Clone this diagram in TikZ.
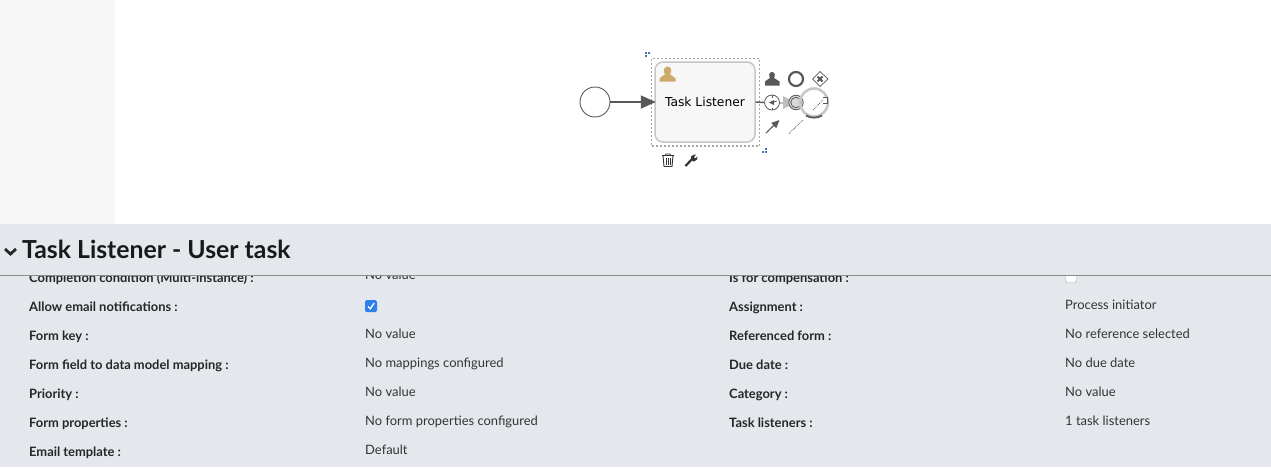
\documentclass[tikz,border=0pt]{standalone}
\usepackage{fontspec}
\setmainfont{Lato}
\newfontfamily\verafont{DejaVu Sans}
\usetikzlibrary{arrows.meta,positioning}
\definecolor{panelgray}{HTML}{E4E8ED}
\definecolor{sidegray}{HTML}{F7F7F7}
\definecolor{inkgray}{HTML}{585858}
\definecolor{usergold}{HTML}{CDAA6A}
\definecolor{handleblue}{HTML}{4A74B8}
\definecolor{checkblue}{HTML}{2F80ED}
\tikzset{
  fieldname/.style={anchor=base west, inner sep=0pt, font=\bfseries\fontsize{12.9}{14}\selectfont, text=black!85},
  fieldvalue/.style={anchor=base west, inner sep=0pt, font=\fontsize{12.95}{14}\selectfont, text=black!80},
  handledot/.style={fill=handleblue, minimum size=2pt, inner sep=0pt},
  tool/.style={draw=black!80, line width=0.9pt},
}
\begin{document}
\begin{tikzpicture}[x=1pt, y=-1pt]
  \useasboundingbox (0,0) rectangle (1271,467);
  \fill[white] (0,0) rectangle (1271,467);
  \fill[sidegray] (0,0) rectangle (115,224);
  \fill[panelgray] (0,224) rectangle (1271,467);

  % left column
  \node[fieldname] (condname) at (29,282) {Completion condition (Multi-instance) :};
  \node[fieldname] (mailname) at (29,311) {Allow email notifications :};
  \node[fieldname] (keyname) at (29,340) {Form key :};
  \node[fieldname] (mapname) at (29,369) {Form field to data model mapping :};
  \node[fieldname] (prioname) at (29,398) {Priority :};
  \node[fieldname] (propname) at (29,427) {Form properties :};
  \node[fieldname] (tplname) at (29,456) {Email template :};
  \node[fieldvalue] (condval) at (365,279.5) {No value};
  \node[fieldvalue] (keyval) at (365,338) {No value};
  \node[fieldvalue] (mapval) at (365,367) {No mappings configured};
  \node[fieldvalue] (prioval) at (365,396) {No value};
  \node[fieldvalue] (propval) at (365,425) {No form properties configured};
  \node[fieldvalue] (tplval) at (365,454) {Default};
  \fill[checkblue, rounded corners=1.5pt] (365,300) rectangle (377,312);
  \draw[white, line width=1.3pt] (368,306.5) -- (370.3,308.8) -- (374.2,303);

  % right column
  \node[fieldname] (compname) at (729,282) {Is for compensation :};
  \node[fieldname] (asgname) at (729,311) {Assignment :};
  \node[fieldname] (refname) at (729,340) {Referenced form :};
  \node[fieldname] (duename) at (729,369) {Due date :};
  \node[fieldname] (catname) at (729,398) {Category :};
  \node[fieldname] (lisname) at (729,427) {Task listeners :};
  \node[fieldvalue] (asgval) at (1065,309) {Process initiator};
  \node[fieldvalue] (refval) at (1065,338) {No reference selected};
  \node[fieldvalue] (dueval) at (1065,367) {No due date};
  \node[fieldvalue] (catval) at (1065,396) {No value};
  \node[fieldvalue] (lisval) at (1065,425) {1 task listeners};
  \draw[black!35, fill=white, rounded corners=1.5pt] (1065.5,271) rectangle (1076.5,282.5);

  % header bar on top of the scrolled rows
  \fill[panelgray] (0,224) rectangle (1271,275);
  \draw[black!45] (0,275.5) -- (1271,275.5);
  \draw[black!85, line width=2.8pt] (5,249) -- (10.5,254) -- (16,249);
  \node[anchor=base west, inner sep=0pt, font=\bfseries\fontsize{24.8}{28}\selectfont, text=black!90] (title) at (22,258) {Task Listener - User task};

  % process
  \node[circle, draw=inkgray, fill=white, line width=0.9pt, minimum size=30pt, inner sep=0pt] (start) at (595,102) {};
  \draw[black!35, line width=1.8pt, dash pattern=on 2pt off 2pt] (651.5,58.5) rectangle (759.5,146);
  \node[draw=black!22, fill=sidegray, line width=1.5pt, rounded corners=8pt, minimum width=100pt, minimum height=80pt, inner sep=0pt, font=\verafont\fontsize{12.3}{14}\selectfont] (task) at (705,102) {\raisebox{-4.7pt}[0pt][0pt]{Task Listener}};
  \draw[-{Triangle[length=15pt,width=13pt]}, draw=inkgray, fill=inkgray, line width=1.7pt, shorten >=-1.5pt] (start) -- (task);
  \fill[usergold] (659.5,81.5) -- (659.5,78.5) .. controls (660.5,76) and (664,76) .. (665,74.5) -- (664,72) .. controls (662.5,64.5) and (672.5,64.5) .. (671,72) -- (670,74.5) .. controls (671,76) and (674.5,76) .. (675.5,78.5) -- (675.5,81.5) -- cycle;
  \node[handledot] (hleft) at (646,53) {};
  \node[handledot] (hleftb) at (649,53) {};
  \node[handledot] (hleftc) at (646,56) {};
  \node[handledot] (hright) at (766,149) {};
  \node[handledot] (hrightb) at (763,152) {};
  \node[handledot] (hrightc) at (766,152) {};

  % pad icons
  \coordinate (pad) at (772,102.5);
  \draw[inkgray, line width=1.4pt] (task.east) -- (764,102.5);
  \draw[black!25, line width=2pt] (764,102.5) -- (785,102.5);
  \fill[black!25] (783,96) -- (796,102.5) -- (783,109) -- cycle;
  \fill[inkgray] (765,85.5) -- (765,81.5) .. controls (766,79.5) and (769,79.5) .. (770,78) -- (769.5,77) .. controls (767.5,70) and (776.5,70) .. (774.5,77) -- (774,78) .. controls (775,79.5) and (778,79.5) .. (779.5,81.5) -- (779.5,85.5) -- cycle;
  \node[circle, draw=inkgray, line width=2.2pt, minimum size=14pt, inner sep=0pt] (endicon) at (796,79) {};
  \draw[inkgray, fill=white, line width=0.7pt] (820,71.5) -- (828,79) -- (820,86.5) -- (812.5,79) -- cycle;
  \draw[inkgray, line width=1.8pt] (817.5,76.5) -- (822.5,81.5) (822.5,76.5) -- (817.5,81.5);
  \node[circle, draw=inkgray, fill=white, line width=0.8pt, minimum size=15pt, inner sep=0pt] (evticon) at (772,102.5) {};
  \draw[inkgray, line width=0.7pt] (772,95) -- (772,97.5) (772,107.5) -- (772,110);
  \fill[inkgray] (769,102.5) -- (774,100) -- (774,105) -- cycle;
  \draw[inkgray, line width=0.7pt] (772,102.5) -- (777,101);
  \node[circle, draw=inkgray, fill=black!15, line width=0.8pt, minimum size=14.5pt, inner sep=0pt] (intericon) at (796,102.5) {};
  \node[circle, draw=inkgray, line width=0.8pt, minimum size=10.5pt, inner sep=0pt] (interin) at (796,102.5) {};
  \draw[black!22, line width=2.6pt] (814,102.5) circle[radius=14];
  \draw[inkgray, line width=1.8pt] (806,115.5) arc[start angle=120, end angle=60, radius=16];
  \draw[densely dotted, inkgray, line width=0.8pt] (813,110) -- (823,100);
  \draw[inkgray, fill=white, line width=0.7pt] (823,97) -- (827,97) -- (827,103) -- (823,103);
  \draw[-{Triangle[length=8pt,width=7pt]}, inkgray, line width=1.1pt] (766,133) -- (779.5,120);
  \draw[densely dotted, inkgray, line width=0.8pt] (789,133.5) -- (803,120);

  % delete and wrench
  \draw[tool] (662,155.5) -- (674,155.5) (665.5,155.5) -- (666,154) -- (670,154) -- (670.5,155.5);
  \draw[tool] (663,155.5) -- (664,166.5) -- (672,166.5) -- (673,155.5);
  \draw[tool] (666,158) -- (666,164.5) (668,158) -- (668,164.5) (670,158) -- (670,164.5);
  \draw[black!80, line width=2.2pt] (685.5,166) -- (692.5,158.5);
  \fill[black!80] (691,160) -- (691,156.5) -- (694,154.5) -- (696,154.5) -- (694,157) -- (695,158.5) -- (697.5,156.5) -- (697,159.5) -- (694,161.5) -- cycle;
\end{tikzpicture}
\end{document}
